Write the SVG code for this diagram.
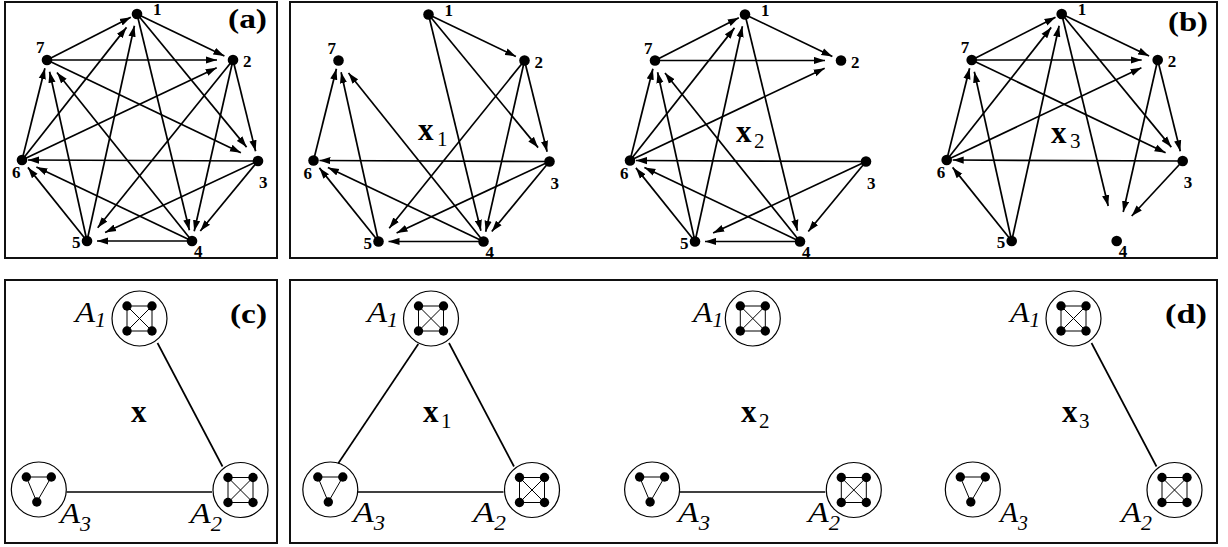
<svg xmlns="http://www.w3.org/2000/svg" xmlns:xlink="http://www.w3.org/1999/xlink" width="1228" height="547" viewBox="0 0 1228 547">
<style>
.box{fill:none;stroke:#111;stroke-width:2}
.e{fill:none;stroke:#000;stroke-width:1.7;marker-end:url(#ah)}
.dot{fill:#000}
.nl{font-family:"Liberation Serif","Times New Roman",serif;font-weight:bold;font-size:17px;fill:#000}
.pl{font-family:"Liberation Serif","Times New Roman",serif;font-weight:bold;font-size:27px;fill:#000}
.xl{font-family:"Liberation Serif","Times New Roman",serif;font-weight:bold;font-size:31px;fill:#000}
.xs{font-weight:normal;font-size:21px}
.al{font-family:"Liberation Serif","Times New Roman",serif;font-style:italic;font-size:30px;fill:#000}
.as{font-size:20px}
.cl{fill:none;stroke:#000;stroke-width:1.7}
.ring{fill:none;stroke:#000;stroke-width:1.2}
.in{fill:none;stroke:#000;stroke-width:1}
</style>
<defs>
<marker id="ah" markerUnits="userSpaceOnUse" markerWidth="11" markerHeight="8" viewBox="0 0 11 8" refX="11" refY="4" orient="auto"><path d="M0,0.4 L11,4 L0,7.6 z" fill="#000"/></marker>
<g id="k4"><circle r="27.5" class="ring"/><path class="in" d="M-12.5,-12.5H12.5V12.5H-12.5Z M-12.5,-12.5L12.5,12.5 M12.5,-12.5L-12.5,12.5"/><circle class="dot" cx="-12.5" cy="-12.5" r="4.7"/><circle class="dot" cx="12.5" cy="-12.5" r="4.7"/><circle class="dot" cx="-12.5" cy="12.5" r="4.7"/><circle class="dot" cx="12.5" cy="12.5" r="4.7"/></g>
<g id="k3"><circle r="27.5" class="ring"/><path class="in" d="M-12.5,-12.5H12.5L-2,12.5Z"/><circle class="dot" cx="-12.5" cy="-12.5" r="4.7"/><circle class="dot" cx="12.5" cy="-12.5" r="4.7"/><circle class="dot" cx="-2" cy="12.5" r="4.7"/></g>
</defs>
<rect width="1228" height="547" fill="#fff"/>
<g id="frames">
<rect class="box" x="5" y="2" width="272" height="256"/>
<rect class="box" x="290" y="2" width="927" height="256"/>
<rect class="box" x="5" y="280" width="272" height="263"/>
<rect class="box" x="290" y="280" width="927" height="263"/>
</g>
<g id="panel-labels">
<text class="pl" x="228" y="28" textLength="39" lengthAdjust="spacingAndGlyphs">(a)</text>
<text class="pl" x="1168" y="31" textLength="40" lengthAdjust="spacingAndGlyphs">(b)</text>
<text class="pl" x="230" y="323" textLength="37" lengthAdjust="spacingAndGlyphs">(c)</text>
<text class="pl" x="1165" y="323" textLength="42" lengthAdjust="spacingAndGlyphs">(d)</text>
</g>

<!-- Graph (a) -->
<g id="graph-a">
<g id="a-edges">
<path class="e" d="M137,14 L224.4,55.9"/>
<path class="e" d="M137,14 L246.6,147.1"/>
<path class="e" d="M137,14 L189.4,230.3"/>
<path class="e" d="M233,60 L255.6,151.3"/>
<path class="e" d="M233,60 L194.2,231.2"/>
<path class="e" d="M233,60 L97.7,227.8"/>
<path class="e" d="M258,161 L200.3,231"/>
<path class="e" d="M258,161 L105.1,232.5"/>
<path class="e" d="M258,161 L28,160"/>
<path class="e" d="M192,241 L97,241"/>
<path class="e" d="M192,241 L36.4,166.9"/>
<path class="e" d="M192,241 L57,72.5"/>
<path class="e" d="M87,241 L27.9,167.4"/>
<path class="e" d="M87,241 L49.6,71.7"/>
<path class="e" d="M87,241 L134.4,25.7"/>
<path class="e" d="M22,160 L44.9,68.2"/>
<path class="e" d="M22,160 L126.5,27.4"/>
<path class="e" d="M22,160 L216.7,67.7"/>
<path class="e" d="M47,60 L130.8,17.2"/>
<path class="e" d="M47,60 L217,60"/>
<path class="e" d="M47,60 L240.9,152.8"/>
</g>
<g id="a-n1"><circle class="dot" cx="137" cy="14" r="5.3"/><text class="nl" x="153" y="15">1</text></g>
<g id="a-n2"><circle class="dot" cx="233" cy="60" r="5.3"/><text class="nl" x="243" y="67">2</text></g>
<g id="a-n3"><circle class="dot" cx="258" cy="161" r="5.3"/><text class="nl" x="259" y="188">3</text></g>
<g id="a-n4"><circle class="dot" cx="192" cy="241" r="5.3"/><text class="nl" x="194" y="257">4</text></g>
<g id="a-n5"><circle class="dot" cx="87" cy="241" r="5.3"/><text class="nl" x="72" y="248">5</text></g>
<g id="a-n6"><circle class="dot" cx="22" cy="160" r="5.3"/><text class="nl" x="12" y="178">6</text></g>
<g id="a-n7"><circle class="dot" cx="47" cy="60" r="5.3"/><text class="nl" x="36" y="53">7</text></g>
</g>

<!-- Graph x1 -->
<g id="graph-x1" transform="translate(291.5,0.5)">
<g id="x1-edges">
<path class="e" d="M137,14 L224.4,55.9"/>
<path class="e" d="M137,14 L246.6,147.1"/>
<path class="e" d="M137,14 L189.4,230.3"/>
<path class="e" d="M233,60 L255.6,151.3"/>
<path class="e" d="M233,60 L194.2,231.2"/>
<path class="e" d="M233,60 L97.7,227.8"/>
<path class="e" d="M258,161 L200.3,231"/>
<path class="e" d="M258,161 L105.1,232.5"/>
<path class="e" d="M258,161 L28,160"/>
<path class="e" d="M192,241 L97,241"/>
<path class="e" d="M192,241 L36.4,166.9"/>
<path class="e" d="M192,241 L57,72.5"/>
<path class="e" d="M87,241 L27.9,167.4"/>
<path class="e" d="M87,241 L49.6,71.7"/>
<path class="e" d="M22,160 L44.9,68.2"/>
</g>
<g id="x1-n1"><circle class="dot" cx="137" cy="14" r="5.3"/><text class="nl" x="153" y="15">1</text></g>
<g id="x1-n2"><circle class="dot" cx="233" cy="60" r="5.3"/><text class="nl" x="243" y="67">2</text></g>
<g id="x1-n3"><circle class="dot" cx="258" cy="161" r="5.3"/><text class="nl" x="259" y="188">3</text></g>
<g id="x1-n4"><circle class="dot" cx="192" cy="241" r="5.3"/><text class="nl" x="194" y="257">4</text></g>
<g id="x1-n5"><circle class="dot" cx="87" cy="241" r="5.3"/><text class="nl" x="72" y="248">5</text></g>
<g id="x1-n6"><circle class="dot" cx="22" cy="160" r="5.3"/><text class="nl" x="12" y="178">6</text></g>
<g id="x1-n7"><circle class="dot" cx="47" cy="60" r="5.3"/><text class="nl" x="36" y="53">7</text></g>
</g>
<text class="xl" x="418" y="140">x<tspan class="xs" x="437" y="146">1</tspan></text>

<!-- Graph x2 -->
<g id="graph-x2" transform="translate(608,0.5)">
<g id="x2-edges">
<path class="e" d="M47,60 L130.8,17.2"/>
<path class="e" d="M137,14 L224.4,55.9"/>
<path class="e" d="M47,60 L217,60"/>
<path class="e" d="M22,160 L216.7,67.7"/>
<path class="e" d="M137,14 L189.4,230.3"/>
<path class="e" d="M258,161 L200.3,231"/>
<path class="e" d="M258,161 L105.1,232.5"/>
<path class="e" d="M192,241 L97,241"/>
<path class="e" d="M258,161 L28,160"/>
<path class="e" d="M192,241 L36.4,166.9"/>
<path class="e" d="M87,241 L27.9,167.4"/>
<path class="e" d="M22,160 L44.9,68.2"/>
<path class="e" d="M87,241 L49.6,71.7"/>
<path class="e" d="M192,241 L57,72.5"/>
<path class="e" d="M22,160 L126.5,27.4"/>
<path class="e" d="M87,241 L134.4,25.7"/>
</g>
<g id="x2-n1"><circle class="dot" cx="137" cy="14" r="5.3"/><text class="nl" x="153" y="15">1</text></g>
<g id="x2-n2"><circle class="dot" cx="233" cy="60" r="5.3"/><text class="nl" x="243" y="67">2</text></g>
<g id="x2-n3"><circle class="dot" cx="258" cy="161" r="5.3"/><text class="nl" x="259" y="188">3</text></g>
<g id="x2-n4"><circle class="dot" cx="192" cy="241" r="5.3"/><text class="nl" x="194" y="257">4</text></g>
<g id="x2-n5"><circle class="dot" cx="87" cy="241" r="5.3"/><text class="nl" x="72" y="248">5</text></g>
<g id="x2-n6"><circle class="dot" cx="22" cy="160" r="5.3"/><text class="nl" x="12" y="178">6</text></g>
<g id="x2-n7"><circle class="dot" cx="47" cy="60" r="5.3"/><text class="nl" x="36" y="53">7</text></g>
</g>
<text class="xl" x="736" y="142">x<tspan class="xs" x="754" y="148">2</tspan></text>

<!-- Graph x3 -->
<g id="graph-x3" transform="translate(924.7,0)">
<g id="x3-edges">
<path class="e" d="M47,60 L130.8,17.2"/>
<path class="e" d="M137,14 L224.4,55.9"/>
<path class="e" d="M47,60 L217,60"/>
<path class="e" d="M22,160 L216.7,67.7"/>
<path class="e" d="M22,160 L126.5,27.4"/>
<path class="e" d="M87,241 L134.4,25.7"/>
<path class="e" d="M137,14 L246.6,147.1"/>
<path class="e" d="M137,14 L183.5,206"/>
<path class="e" d="M233,60 L255.6,151.3"/>
<path class="e" d="M233,60 L198.5,212"/>
<path class="e" d="M258,161 L207,216"/>
<path class="e" d="M47,60 L240.9,152.8"/>
<path class="e" d="M258,161 L28,160"/>
<path class="e" d="M87,241 L27.9,167.4"/>
<path class="e" d="M22,160 L44.9,68.2"/>
<path class="e" d="M87,241 L49.6,71.7"/>
</g>
<g id="x3-n1"><circle class="dot" cx="137" cy="14" r="5.3"/><text class="nl" x="153" y="15">1</text></g>
<g id="x3-n2"><circle class="dot" cx="233" cy="60" r="5.3"/><text class="nl" x="243" y="67">2</text></g>
<g id="x3-n3"><circle class="dot" cx="258" cy="161" r="5.3"/><text class="nl" x="259" y="188">3</text></g>
<g id="x3-n4"><circle class="dot" cx="192" cy="241" r="5.3"/><text class="nl" x="194" y="257">4</text></g>
<g id="x3-n5"><circle class="dot" cx="87" cy="241" r="5.3"/><text class="nl" x="72" y="248">5</text></g>
<g id="x3-n6"><circle class="dot" cx="22" cy="160" r="5.3"/><text class="nl" x="12" y="178">6</text></g>
<g id="x3-n7"><circle class="dot" cx="47" cy="60" r="5.3"/><text class="nl" x="36" y="53">7</text></g>
</g>
<text class="xl" x="1051" y="143">x<tspan class="xs" x="1070" y="148">3</tspan></text>

<!-- Panel (c) -->
<g id="c-links">
<path class="cl" d="M157.5,343 L222.5,466.5"/>
<path class="cl" d="M66.5,492 H212"/>
</g>
<g id="c-A1"><use xlink:href="#k4" href="#k4" x="139.5" y="318.5"/><text class="al" x="75" y="322" textLength="31" lengthAdjust="spacingAndGlyphs">A<tspan class="as" dy="5">1</tspan></text></g>
<g id="c-A2"><use xlink:href="#k4" href="#k4" x="240.5" y="490"/><text class="al" x="190" y="523" textLength="32" lengthAdjust="spacingAndGlyphs">A<tspan class="as" dy="8">2</tspan></text></g>
<g id="c-A3"><use xlink:href="#k3" href="#k3" x="38.8" y="489.5"/><text class="al" x="60" y="523" textLength="31" lengthAdjust="spacingAndGlyphs">A<tspan class="as" dy="8">3</tspan></text></g>
<text class="xl" x="131" y="422">x</text>

<!-- Panel (d) x1 -->
<g id="d1-links">
<path class="cl" d="M449,343 L514,466.5"/>
<path class="cl" d="M418.3,344 L338.3,463.3"/>
<path class="cl" d="M358,492 H503.5"/>
</g>
<g id="d1-A1"><use xlink:href="#k4" href="#k4" x="431" y="318.5"/><text class="al" x="367" y="322" textLength="31" lengthAdjust="spacingAndGlyphs">A<tspan class="as" dy="5">1</tspan></text></g>
<g id="d1-A2"><use xlink:href="#k4" href="#k4" x="532" y="490"/><text class="al" x="473" y="522" textLength="33" lengthAdjust="spacingAndGlyphs">A<tspan class="as" dy="8">2</tspan></text></g>
<g id="d1-A3"><use xlink:href="#k3" href="#k3" x="330.3" y="489.5"/><text class="al" x="353" y="522" textLength="32" lengthAdjust="spacingAndGlyphs">A<tspan class="as" dy="8">3</tspan></text></g>
<text class="xl" x="423" y="422">x<tspan class="xs" x="441" y="428">1</tspan></text>

<!-- Panel (d) x2 -->
<g id="d2-links">
<path class="cl" d="M679.8,492 H825.3"/>
</g>
<g id="d2-A1"><use xlink:href="#k4" href="#k4" x="752.8" y="318.5"/><text class="al" x="693" y="322" textLength="30" lengthAdjust="spacingAndGlyphs">A<tspan class="as" dy="5">1</tspan></text></g>
<g id="d2-A2"><use xlink:href="#k4" href="#k4" x="853.8" y="490"/><text class="al" x="808" y="522" textLength="32" lengthAdjust="spacingAndGlyphs">A<tspan class="as" dy="8">2</tspan></text></g>
<g id="d2-A3"><use xlink:href="#k3" href="#k3" x="652.1" y="489.5"/><text class="al" x="678" y="522" textLength="32" lengthAdjust="spacingAndGlyphs">A<tspan class="as" dy="8">3</tspan></text></g>
<text class="xl" x="741" y="422">x<tspan class="xs" x="759" y="428">2</tspan></text>

<!-- Panel (d) x3 -->
<g id="d3-links">
<path class="cl" d="M1091.5,343 L1156.5,466.5"/>
</g>
<g id="d3-A1"><use xlink:href="#k4" href="#k4" x="1073.5" y="318.5"/><text class="al" x="1010" y="322" textLength="30" lengthAdjust="spacingAndGlyphs">A<tspan class="as" dy="5">1</tspan></text></g>
<g id="d3-A2"><use xlink:href="#k4" href="#k4" x="1174.5" y="490"/><text class="al" x="1121" y="522" textLength="31" lengthAdjust="spacingAndGlyphs">A<tspan class="as" dy="8">2</tspan></text></g>
<g id="d3-A3"><use xlink:href="#k3" href="#k3" x="972.8" y="489.5"/><text class="al" x="1000" y="522" textLength="28" lengthAdjust="spacingAndGlyphs">A<tspan class="as" dy="8">3</tspan></text></g>
<text class="xl" x="1062" y="422">x<tspan class="xs" x="1079" y="428">3</tspan></text>
</svg>
